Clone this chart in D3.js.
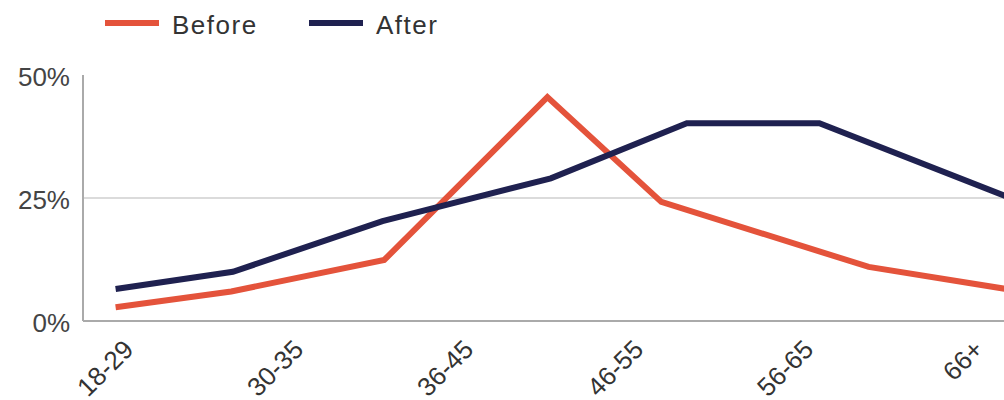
<!DOCTYPE html>
<html>
<head>
<meta charset="utf-8">
<script src="https://cdn.jsdelivr.net/npm/d3@7"></script>
<style>
  html, body { margin: 0; padding: 0; background: #fff; }
  svg { display: block; font-family: "Liberation Sans", Arial, Helvetica, sans-serif; }
</style>
</head>
<body>
<svg id="chart" width="1004" height="400"></svg>
<script>
// Age groups shown along the bottom axis
const ageGroups = ["18-29", "30-35", "36-45", "46-55", "56-65", "66+"];

// Share of respondents (%) — "Before"
const beforePos = [-0.12, 0.56, 1.46, 2.42, 3.09, 4.31, 5.12];
const beforeVals = [2.8, 6, 12.4, 45.5, 24.2, 11, 6.5];

// Share of respondents (%) — "After"
const afterPos = [-0.12, 0.57, 1.45, 2.44, 3.24, 4.02, 5.12];
const afterVals = [6.5, 10, 20.3, 29, 40.2, 40.2, 25.3];

const yTicks = [0, 25, 50];

const seriesNames = ["Before", "After"];
const seriesColors = ["#e4533b", "#1f2150"];

const plotLeft = 83, plotRight = 1004, plotTop = 75, plotBottom = 321;

const svg = d3.select("#chart");

const x = d3.scaleLinear().domain([0, ageGroups.length - 1]).range([136, 986]);
const y = d3.scaleLinear().domain([0, 50]).range([plotBottom, plotTop]);

// Horizontal gridline at 25%
svg.append("g")
  .selectAll("line")
  .data(yTicks.filter(t => t > 0 && t < 50))
  .join("line")
  .attr("x1", plotLeft).attr("x2", plotRight)
  .attr("y1", d => y(d)).attr("y2", d => y(d))
  .attr("stroke", "#cfcfcf").attr("stroke-width", 1.5);

// Y axis labels
const yAxis = d3.axisLeft(y).tickValues(yTicks).tickSize(0).tickPadding(13)
  .tickFormat(d => d + "%");
const yg = svg.append("g").attr("transform", `translate(${plotLeft},0)`).call(yAxis);
yg.select(".domain").remove();
yg.selectAll("text")
  .attr("fill", "#444").attr("font-size", 26).attr("dy", "0.4em")
  .attr("font-family", "'Liberation Sans', Arial, sans-serif");

// Axis lines
svg.append("line")
  .attr("x1", plotLeft).attr("x2", plotLeft)
  .attr("y1", plotTop).attr("y2", plotBottom)
  .attr("stroke", "#aaaaaa").attr("stroke-width", 2);
svg.append("line")
  .attr("x1", plotLeft).attr("x2", plotRight)
  .attr("y1", plotBottom).attr("y2", plotBottom)
  .attr("stroke", "#aaaaaa").attr("stroke-width", 2);

// X axis labels, rotated
svg.append("g")
  .selectAll("text")
  .data(ageGroups)
  .join("text")
  .attr("transform", (d, i) => `translate(${x(i) - 1},351) rotate(-45)`)
  .attr("text-anchor", "end")
  .attr("fill", "#333")
  .attr("font-size", 26)
  .text(d => d);

// Lines
const line = d3.line()
  .x(d => x(d[0]))
  .y(d => y(d[1]));

const seriesData = [
  d3.zip(beforePos, beforeVals),
  d3.zip(afterPos, afterVals)
];

svg.append("g")
  .selectAll("path")
  .data(seriesData)
  .join("path")
  .attr("d", line)
  .attr("fill", "none")
  .attr("stroke", (d, i) => seriesColors[i])
  .attr("stroke-width", 6)
  .attr("stroke-linejoin", "miter")
  .attr("stroke-miterlimit", 10);

// Legend
const legend = svg.append("g");
const legendX = [105, 309];
seriesNames.forEach((name, i) => {
  const g = legend.append("g").attr("transform", `translate(${legendX[i]},23)`);
  g.append("line")
    .attr("x1", 0).attr("x2", 54).attr("y1", 0).attr("y2", 0)
    .attr("stroke", seriesColors[i]).attr("stroke-width", 6);
  g.append("text")
    .attr("x", 67).attr("y", 11)
    .attr("fill", "#333").attr("font-size", 26).attr("letter-spacing", 1.5)
    .text(name);
});
</script>
</body>
</html>
